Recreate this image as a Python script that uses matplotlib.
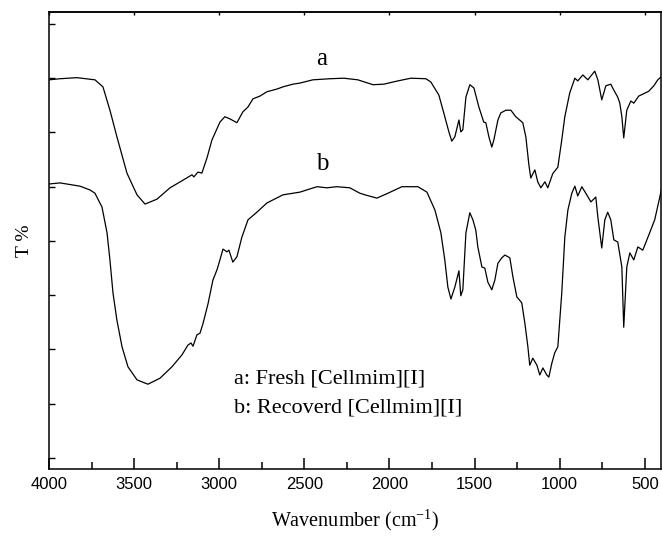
import numpy as np
import matplotlib
matplotlib.use("Agg")
import matplotlib.pyplot as plt

# FTIR spectra (transmittance in arbitrary units)
wn_a = [4000, 3935, 3836, 3730, 3683, 3642, 3601, 3542, 3483, 3436, 3366, 3289,
        3213, 3160, 3149, 3125, 3102, 3072, 3043, 2996, 2967, 2937, 2896, 2861,
        2831, 2802, 2761, 2720, 2661, 2626, 2567, 2526, 2450, 2350, 2268, 2186,
        2097, 2033, 1951, 1874, 1786, 1757, 1710, 1681, 1651, 1634, 1616, 1592,
        1581, 1569, 1551, 1528, 1504, 1475, 1446, 1434, 1416, 1399, 1387, 1363,
        1346, 1316, 1287, 1258, 1217, 1199, 1181, 1170, 1146, 1129, 1111, 1087,
        1070, 1041, 1011, 988, 970, 941, 911, 894, 864, 835, 794, 776,
        753, 729, 700, 682, 659, 647, 635, 624, 606, 582, 565, 536,
        477, 447, 424, 406]
t_a = [69.7, 69.9, 70.1, 69.7, 68.4, 64.1, 59.2, 52.5, 48.5, 46.8, 47.7, 49.8,
       51.2, 52.2, 51.8, 52.7, 52.5, 55.3, 58.6, 61.9, 62.9, 62.5, 61.8, 63.8,
       64.7, 66.2, 66.7, 67.5, 68.0, 68.4, 68.9, 69.1, 69.7, 69.9, 70.0, 69.7,
       68.8, 68.9, 69.5, 70.0, 69.9, 69.3, 66.9, 63.6, 60.1, 58.4, 59.2, 62.3,
       60.1, 60.5, 66.5, 68.8, 68.2, 64.7, 61.9, 61.8, 59.2, 57.3, 58.6, 62.3,
       63.6, 64.1, 64.1, 62.9, 61.8, 59.2, 54.0, 51.6, 53.1, 50.9, 49.8, 50.9,
       49.8, 52.4, 53.6, 58.6, 62.9, 67.3, 70.0, 69.5, 70.6, 69.7, 71.3, 69.7,
       66.0, 68.6, 68.9, 67.8, 66.5, 65.4, 62.9, 59.0, 64.1, 65.8, 65.4, 66.7,
       67.6, 68.6, 69.7, 70.2]

wn_b = [4000, 3935, 3818, 3759, 3730, 3701, 3689, 3659, 3642, 3624, 3601, 3571,
        3536, 3483, 3419, 3348, 3278, 3219, 3184, 3166, 3154, 3131, 3113, 3096,
        3066, 3037, 3013, 2996, 2978, 2955, 2943, 2920, 2896, 2867, 2831, 2779,
        2720, 2626, 2526, 2426, 2368, 2309, 2233, 2174, 2144, 2074, 2009, 1927,
        1833, 1780, 1733, 1698, 1675, 1657, 1639, 1616, 1592, 1581, 1569, 1551,
        1528, 1510, 1493, 1481, 1457, 1440, 1422, 1399, 1381, 1363, 1340, 1322,
        1293, 1275, 1252, 1223, 1205, 1187, 1176, 1158, 1134, 1117, 1099, 1076,
        1064, 1046, 1029, 1011, 988, 970, 952, 929, 911, 894, 870, 841,
        817, 788, 776, 753, 735, 718, 700, 682, 659, 635, 624, 606,
        588, 565, 541, 512, 483, 442, 400]
t_b = [50.5, 50.7, 50.1, 49.4, 48.8, 47.0, 46.3, 41.5, 36.5, 30.4, 25.4, 20.5,
       16.8, 14.4, 13.6, 14.7, 16.8, 19.0, 20.8, 21.2, 20.6, 22.7, 23.0, 24.7,
       28.4, 32.8, 34.7, 36.5, 38.5, 38.0, 38.3, 36.1, 37.1, 40.7, 43.9, 45.3,
       47.0, 48.5, 49.0, 50.0, 49.8, 50.0, 49.8, 48.8, 48.5, 47.9, 48.8, 50.0,
       50.0, 49.0, 45.7, 41.5, 36.5, 31.5, 29.3, 31.5, 34.5, 29.9, 31.0, 41.5,
       45.2, 43.9, 42.0, 38.9, 35.2, 35.0, 32.4, 31.0, 32.8, 35.9, 36.9, 37.4,
       36.9, 33.4, 29.7, 28.6, 24.9, 20.5, 17.1, 18.4, 17.1, 15.3, 16.6, 15.3,
       14.9, 17.5, 19.4, 20.5, 30.4, 40.7, 45.7, 48.8, 50.1, 48.3, 50.0, 48.5,
       47.2, 48.1, 44.4, 38.7, 43.9, 45.3, 43.9, 40.2, 39.8, 35.2, 24.1, 35.2,
       37.8, 36.5, 38.9, 38.3, 40.6, 43.9, 49.8]

x_ticks = [4000, 3500, 3000, 2500, 2000, 1500, 1000, 500]
legend_lines = ["a: Fresh [Cellmim][I]", "b: Recoverd [Cellmim][I]"]

plt.rcParams["mathtext.fontset"] = "custom"
plt.rcParams["mathtext.rm"] = "Liberation Serif"
plt.rcParams["mathtext.it"] = "Liberation Serif:italic"

fig = plt.figure(figsize=(6.62, 5.36), dpi=100)
ax = fig.add_axes([0.074, 0.125, 0.9245, 0.8526])

ax.plot(wn_a, t_a, color="black", lw=0.9)
ax.plot(wn_b, t_b, color="black", lw=0.9)

ax.set_xlim(4000, 405)
ax.set_ylim(-2.03, 82.2)

ax.set_xticks(x_ticks)
ax.set_xticks(np.arange(3750, 400, -500), minor=True)
ax.set_yticks(np.arange(0, 81, 10))
ax.set_yticklabels([])
for lbl in ax.get_xticklabels():
    lbl.set_fontfamily("Liberation Sans")
    lbl.set_fontsize(12)

ax.tick_params(axis="x", which="major", direction="in", length=8, width=1.1,
               top=False, pad=6)
ax.tick_params(axis="x", which="minor", direction="in", length=5, width=1.1,
               top=False)
ax.tick_params(axis="y", which="major", direction="in", length=4, width=1.0,
               right=False)
for s in ax.spines.values():
    s.set_linewidth(1.1)

# tiny ticks along the top frame
top = ax.secondary_xaxis("top")
top.set_xticks(x_ticks)
top.set_xticklabels([])
top.tick_params(direction="in", length=2.5, width=1.0)
top.spines["top"].set_linewidth(1.1)

serif = "Liberation Serif"
ax.set_xlabel("Wavenumber (cm$^{\\mathrm{-1}}$)", fontfamily=serif,
              fontsize=14.5, labelpad=11)
ax.set_ylabel("T %", fontfamily=serif, fontsize=14, labelpad=8)

ax.text(2397, 72.4, "a", fontfamily=serif, fontsize=18, ha="center", va="baseline")
ax.text(2397, 53.1, "b", fontfamily=serif, fontsize=18, ha="center", va="baseline")
ax.text(2914, 13.8, legend_lines[0], fontfamily=serif, fontsize=16,
        ha="left", va="baseline")
ax.text(2914, 8.3, legend_lines[1], fontfamily=serif, fontsize=16,
        ha="left", va="baseline")

fig.savefig("out.png", dpi=100)
